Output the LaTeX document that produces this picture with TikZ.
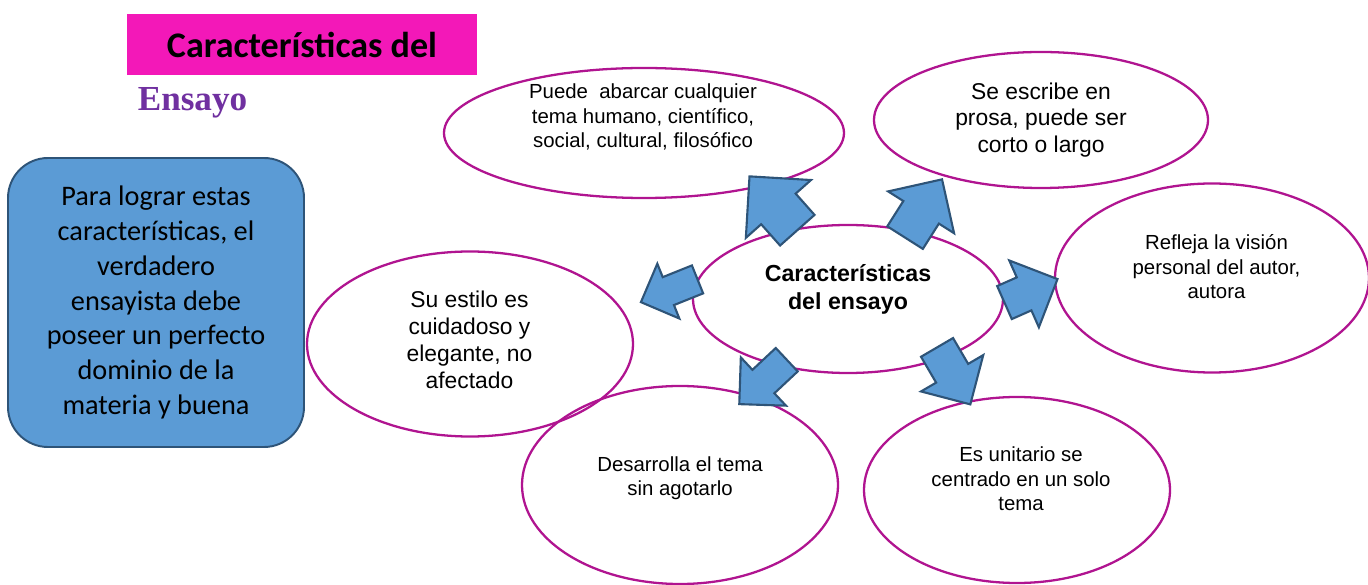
\documentclass[tikz,border=0pt]{standalone}
\usepackage{fontspec}
\setmainfont{Liberation Sans}
\newfontfamily\calibri{Carlito}
\newfontfamily\timesfont{Liberation Serif}
\usetikzlibrary{shapes.geometric,shapes.arrows}

\definecolor{titlepink}{RGB}{243,24,184}
\definecolor{bubbleline}{RGB}{176,20,144}
\definecolor{arrowblue}{RGB}{91,155,213}
\definecolor{arrowedge}{RGB}{46,84,120}
\definecolor{ensayopurple}{RGB}{112,48,160}

\tikzset{
  bubble/.style={ellipse, draw=bubbleline, line width=1.3pt, inner sep=0pt},
  smalltext/.style={align=center, font=\fontsize{11.6}{13.9}\selectfont},
  bigtext/.style={align=center, font=\fontsize{13}{15.3}\selectfont},
  blockarrow/.style n args={4}{single arrow, draw=arrowedge, fill=arrowblue,
    line width=1.2pt, anchor=tail, inner xsep=0pt, inner ysep=#4/2,
    single arrow head extend=(#3-#4)/2, minimum height=#2, rotate=#1}
}

\begin{document}
\begin{tikzpicture}
\useasboundingbox (0,0) rectangle (27.36,-11.7);

% Title
\node[fill=titlepink, minimum width=7cm, minimum height=1.22cm,
  font=\calibri\bfseries\fontsize{20.5}{24}\selectfont] (title) at (6.04,-0.90) {Características del};
\node[text=ensayopurple, font=\timesfont\bfseries\fontsize{20}{24}\selectfont] (ensayo) at (3.85,-2.06) {Ensayo};

% Note box
\node[rounded corners=0.8cm, fill=arrowblue, draw=arrowedge, line width=1.1pt,
  minimum width=5.92cm, minimum height=5.78cm, align=center,
  font=\calibri\fontsize{16.1}{19.8}\selectfont] (nota) at (3.12,-6.05)
  {Para lograr estas\\características, el\\verdadero\\ensayista debe\\poseer un perfecto\\dominio de la\\materia y buena};

% Ellipses
\node[bubble, minimum width=6.2cm, minimum height=2.96cm] (e0) at (16.96,-5.98) {};
\node[bubble, minimum width=8.0cm, minimum height=2.6cm] (e1) at (12.88,-2.66) {};
\node[bubble, minimum width=6.68cm, minimum height=2.72cm] (e2) at (20.82,-2.40) {};
\node[bubble, minimum width=6.28cm, minimum height=3.78cm] (e3) at (24.24,-5.56) {};
\node[bubble, minimum width=6.52cm, minimum height=3.70cm] (e4) at (9.40,-6.88) {};
\node[bubble, minimum width=6.32cm, minimum height=3.96cm] (e5) at (13.60,-9.70) {};
\node[bubble, minimum width=6.12cm, minimum height=3.72cm] (e6) at (20.34,-9.80) {};

% Texts
\node[bigtext, font=\bfseries\fontsize{13.2}{15.9}\selectfont] (t0) at (16.96,-5.78) {Características\\del ensayo};
\node[smalltext] (t1) at (12.86,-2.34) {Puede~~abarcar cualquier\\tema humano, científico,\\social, cultural, filosófico};
\node[bigtext] (t2) at (20.82,-2.40) {Se escribe en\\prosa, puede ser\\corto o largo};
\node[smalltext] (t3) at (24.33,-5.34) {Refleja la visión\\personal del autor,\\autora};
\node[bigtext] (t4) at (9.39,-6.80) {Su estilo es\\cuidadoso y\\elegante, no\\afectado};
\node[smalltext] (t5) at (13.60,-9.56) {Desarrolla el tema\\sin agotarlo};
\node[smalltext] (t6) at (20.42,-9.58) {Es unitario se\\centrado en un solo\\tema};

% Block arrows
\node[blockarrow={131.6}{1.44cm}{1.70cm}{0.88cm}] (a1) at (15.96,-4.62) {};
\node[blockarrow={57.6}{1.38cm}{1.52cm}{0.80cm}] (a2) at (18.09,-4.77) {};
\node[blockarrow={23.9}{1.16cm}{1.42cm}{0.68cm}] (a3) at (20.07,-6.06) {};
\node[blockarrow={201.9}{1.22cm}{1.14cm}{0.56cm}] (a4) at (13.97,-5.58) {};
\node[blockarrow={223.1}{1.30cm}{1.28cm}{0.60cm}] (a5) at (15.75,-7.18) {};
\node[blockarrow={-59.7}{1.32cm}{1.40cm}{0.70cm}] (a6) at (18.73,-6.93) {};

\end{tikzpicture}
\end{document}
